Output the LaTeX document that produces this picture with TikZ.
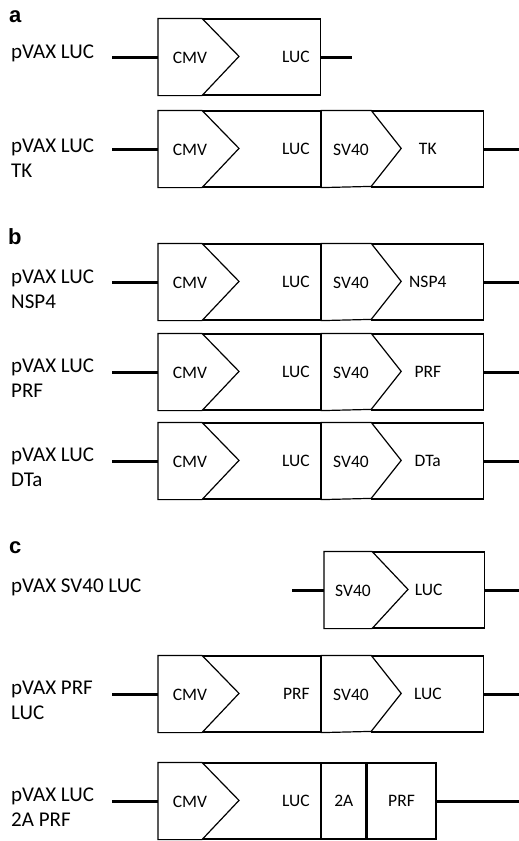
\documentclass[tikz,border=0pt]{standalone}
\usepackage{fontspec}
\setmainfont{Carlito}
\newfontfamily\panelfont{Liberation Sans}
\usetikzlibrary{positioning}

\begin{document}
\begin{tikzpicture}[
  x=1pt, y=-1pt,
  tag/.style={anchor=base west, align=left, inner sep=0pt, font=\fontsize{21}{25}\selectfont},
  panel/.style={anchor=base west, inner sep=0pt, font=\panelfont\bfseries\fontsize{22}{26}\selectfont},
  part/.style={draw, line width=1.2pt, minimum height=76pt, inner sep=0pt, font=\fontsize{17.5}{20}\selectfont},
  lead/.style={part, text width=96pt, inner xsep=11pt, align=right},
  prom/.style={draw, fill=white, line width=1.2pt},
  ptxt/.style={inner sep=0pt, font=\fontsize{17.5}{20}\selectfont},
  bb/.style={line width=3pt}
]
\useasboundingbox (0,0) rectangle (519,841);

% panel a
\node[panel] (pa) at (9,22) {a};

\node[tag] (ta1) at (11,58) {pVAX LUC};
\node[lead, anchor=west] (luca1) at (202,57) {LUC};
\draw[prom] (158,57) coordinate (pa1) |- (luca1.north west) -- ++(37,38) -- (luca1.south west) -- ++(-44,0) -- cycle;
\node[ptxt] (cmva1) at (190,58) {CMV};
\coordinate (ia1) at (112,57);
\coordinate (oa1) at (352,57);
\draw[bb] (ia1) -- (pa1);
\draw[bb] (luca1) -- (oa1);

\node[tag] (ta2) at (11,177) {pVAX LUC\\TK};
\node[lead, anchor=west] (luca2) at (202,149) {LUC};
\node[part, minimum width=112pt, right=50pt of luca2] (tka2) {TK};
\draw[prom] (158,149) coordinate (pa2) |- (luca2.north west) -- ++(37,38) -- (luca2.south west) -- ++(-44,0) -- cycle;
\draw[prom] (luca2.north east) -- ++(50,0) -- ++(30,38) -- ++(-30,38) -- (luca2.south east) -- cycle;
\node[ptxt] (cmva2) at (190,150) {CMV};
\node[ptxt] (sva2) at (351,150) {SV40};
\coordinate (ia2) at (112,149);
\coordinate (oa2) at (519,149);
\draw[bb] (ia2) -- (pa2);
\draw[bb] (tka2) -- (oa2);

% panel b
\node[panel] (pb) at (8,244) {b};

\node[tag] (tb1) at (11,308) {pVAX LUC\\NSP4};
\node[lead, anchor=west] (lucb1) at (202,282) {LUC};
\node[part, minimum width=112pt, right=50pt of lucb1] (nspb1) {NSP4};
\draw[prom] (158,282) coordinate (pb1) |- (lucb1.north west) -- ++(37,38) -- (lucb1.south west) -- ++(-44,0) -- cycle;
\draw[prom] (lucb1.north east) -- ++(50,0) -- ++(30,38) -- ++(-30,38) -- (lucb1.south east) -- cycle;
\node[ptxt] (cmvb1) at (190,283) {CMV};
\node[ptxt] (svb1) at (351,283) {SV40};
\coordinate (ib1) at (112,282);
\coordinate (ob1) at (519,282);
\draw[bb] (ib1) -- (pb1);
\draw[bb] (nspb1) -- (ob1);

\node[tag] (tb2) at (11,397) {pVAX LUC\\PRF};
\node[lead, anchor=west] (lucb2) at (202,372) {LUC};
\node[part, minimum width=112pt, right=50pt of lucb2] (prfb2) {PRF};
\draw[prom] (158,372) coordinate (pb2) |- (lucb2.north west) -- ++(37,38) -- (lucb2.south west) -- ++(-44,0) -- cycle;
\draw[prom] (lucb2.north east) -- ++(50,0) -- ++(30,38) -- ++(-30,38) -- (lucb2.south east) -- cycle;
\node[ptxt] (cmvb2) at (190,373) {CMV};
\node[ptxt] (svb2) at (351,373) {SV40};
\coordinate (ib2) at (112,372);
\coordinate (ob2) at (519,372);
\draw[bb] (ib2) -- (pb2);
\draw[bb] (prfb2) -- (ob2);

\node[tag] (tb3) at (11,486) {pVAX LUC\\DTa};
\node[lead, anchor=west] (lucb3) at (202,461) {LUC};
\node[part, minimum width=112pt, right=50pt of lucb3] (dtab3) {DTa};
\draw[prom] (158,461) coordinate (pb3) |- (lucb3.north west) -- ++(37,38) -- (lucb3.south west) -- ++(-44,0) -- cycle;
\draw[prom] (lucb3.north east) -- ++(50,0) -- ++(30,38) -- ++(-30,38) -- (lucb3.south east) -- cycle;
\node[ptxt] (cmvb3) at (190,462) {CMV};
\node[ptxt] (svb3) at (351,462) {SV40};
\coordinate (ib3) at (112,461);
\coordinate (ob3) at (519,461);
\draw[bb] (ib3) -- (pb3);
\draw[bb] (dtab3) -- (ob3);

% panel c
\node[panel] (pc) at (9,553) {c};

\node[tag] (tc1) at (11,592) {pVAX SV40 LUC};
\node[part, minimum width=112pt, anchor=west] (lucc1) at (372,590) {LUC};
\draw[prom] (324,590) coordinate (pc1) |- (lucc1.north west) -- ++(36,38) -- (lucc1.south west) -- ++(-48,0) -- cycle;
\node[ptxt] (svc1) at (353,591) {SV40};
\coordinate (ic1) at (292,590);
\coordinate (oc1) at (519,590);
\draw[bb] (ic1) -- (pc1);
\draw[bb] (lucc1) -- (oc1);

\node[tag] (tc2) at (11,719) {pVAX PRF\\LUC};
\node[lead, anchor=west] (prfc2) at (202,694) {PRF};
\node[part, minimum width=112pt, right=50pt of prfc2] (lucc2) {LUC};
\draw[prom] (158,694) coordinate (pc2) |- (prfc2.north west) -- ++(37,38) -- (prfc2.south west) -- ++(-44,0) -- cycle;
\draw[prom] (prfc2.north east) -- ++(50,0) -- ++(30,38) -- ++(-30,38) -- (prfc2.south east) -- cycle;
\node[ptxt] (cmvc2) at (190,695) {CMV};
\node[ptxt] (svc2) at (351,695) {SV40};
\coordinate (ic2) at (112,694);
\coordinate (oc2) at (519,694);
\draw[bb] (ic2) -- (pc2);
\draw[bb] (lucc2) -- (oc2);

\node[tag] (tc3) at (11,826) {pVAX LUC\\2A PRF};
\node[lead, anchor=west] (lucc3) at (202,801) {LUC};
\node[part, minimum width=44pt, right=0pt of lucc3] (tac3) {2A};
\node[part, minimum width=69pt, right=0pt of tac3] (prfc3) {PRF};
\draw[prom] (158,801) coordinate (pc3) |- (lucc3.north west) -- ++(37,38) -- (lucc3.south west) -- ++(-44,0) -- cycle;
\node[ptxt] (cmvc3) at (190,802) {CMV};
\coordinate (ic3) at (112,801);
\coordinate (oc3) at (519,801);
\draw[bb] (ic3) -- (pc3);
\draw[bb] (prfc3) -- (oc3);

\end{tikzpicture}
\end{document}
